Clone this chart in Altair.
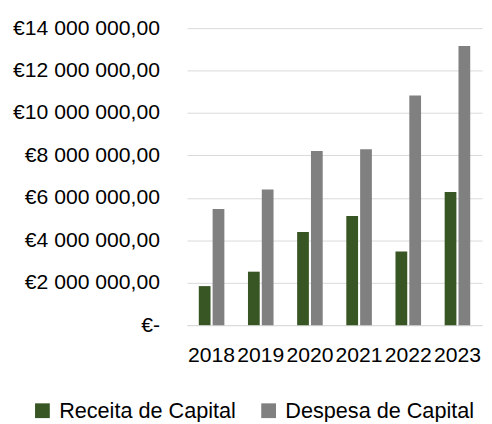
import altair as alt
import pandas as pd

years = ["2018", "2019", "2020", "2021", "2022", "2023"]
receita = [1840000, 2520000, 4390000, 5150000, 3470000, 6280000]
despesa = [5480000, 6390000, 8210000, 8290000, 10830000, 13160000]
series = ["Receita de Capital", "Despesa de Capital"]
colors = ["#375623", "#808080"]
y_ticks = [0, 2000000, 4000000, 6000000, 8000000, 10000000, 12000000, 14000000]

rows = []
for i, yr in enumerate(years):
    rows.append({"ano": yr, "serie": series[0], "valor": receita[i]})
    rows.append({"ano": yr, "serie": series[1], "valor": despesa[i]})
df = pd.DataFrame(rows)

label_expr = (
    "datum.value == 0 ? '€-\u00a0\u00a0\u00a0' : "
    "'€' + replace(replace(replace(replace(format(datum.value, ',.2f'), '.', '#'), ',', ' '), ',', ' '), '#', ',')"
)

chart = alt.Chart(df).mark_bar().encode(
    x=alt.X("ano:N", sort=years, title=None,
            scale=alt.Scale(paddingInner=0.48, paddingOuter=0.24),
            axis=alt.Axis(labelAngle=0, labelOverlap=False, labelPadding=20,
                          ticks=False, domainColor="#d9d9d9", domainWidth=1,
                          labelFontSize=21.5, labelColor="#000000", labelBound=False,
                          labelFlush=False)),
    xOffset=alt.XOffset("serie:N", sort=series,
                        scale=alt.Scale(paddingInner=0.15, paddingOuter=0)),
    y=alt.Y("valor:Q", title=None,
            scale=alt.Scale(domain=[0, 14000000], nice=False),
            axis=alt.Axis(values=y_ticks, labelExpr=label_expr, domain=False, ticks=False,
                          gridColor="#d9d9d9", gridWidth=1, labelPadding=28,
                          labelFontSize=21.5, labelColor="#000000", labelLimit=300)),
    color=alt.Color("serie:N", sort=series,
                    scale=alt.Scale(domain=series, range=colors),
                    legend=alt.Legend(title=None, orient="none", direction="horizontal",
                                      legendX=-158, legendY=378,
                                      symbolType="square", symbolSize=225,
                                      symbolStrokeWidth=0, labelFontSize=22,
                                      labelColor="#000000", symbolOffset=0,
                                      labelOffset=6, columnPadding=22,
                                      labelLimit=400)),
).properties(
    width=300,
    height=302,
    padding={"left": 182, "top": 17, "right": 2, "bottom": 95},
    autosize=alt.AutoSizeParams(type="none"),
).configure(
    font="Liberation Sans"
).configure_view(
    stroke=None
)

chart.save("out.html", embed_options={"renderer": "svg", "actions": False})
